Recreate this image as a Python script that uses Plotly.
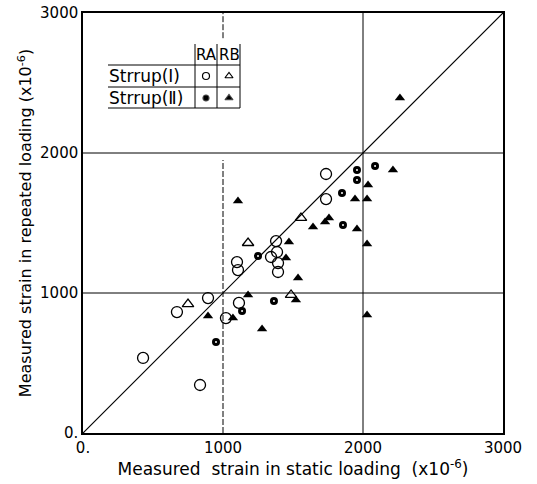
import plotly.graph_objects as go

# RA, Stirrup (I) - open circles
ra1_x = [429, 836, 671, 893, 1021, 1114, 1100, 1107, 1379, 1386, 1343, 1393, 1393, 1736, 1736]
ra1_y = [536, 343, 864, 964, 821, 929, 1221, 1164, 1371, 1293, 1257, 1214, 1150, 1850, 1671]
# RB, Stirrup (I) - open triangles
rb1_x = [750, 1179, 1557, 1486]
rb1_y = [921, 1357, 1536, 986]
# RA, Stirrup (II) - filled circles
ra2_x = [950, 1136, 1250, 1364, 1957, 1957, 2086, 1850, 1857]
ra2_y = [650, 871, 1264, 943, 1879, 1807, 1907, 1714, 1486]
# RB, Stirrup (II) - filled triangles
rb2_x = [893, 1071, 1179, 1107, 1471, 1450, 1536, 1279, 2214, 2036, 1943, 2029,
         1757, 1729, 1643, 1957, 2029, 1521, 2264, 2029]
rb2_y = [836, 821, 986, 1657, 1364, 1250, 1107, 743, 1879, 1771, 1671, 1671,
         1536, 1507, 1471, 1457, 1350, 950, 2393, 843]

tick_vals = [0, 1000, 2000, 3000]
tick_text = ["0.", "1000", "2000", "3000"]
diag = [0, 3000]

FONT = "DejaVu Sans"

fig = go.Figure()

# gridlines
for v in [1000, 2000]:
    fig.add_shape(type="line", x0=0, x1=3000, y0=v, y1=v, xref="x", yref="y",
                  line=dict(color="black", width=1), layer="below")
fig.add_shape(type="line", x0=2000, x1=2000, y0=0, y1=3000, xref="x", yref="y",
              line=dict(color="black", width=1), layer="below")
fig.add_shape(type="line", x0=1000, x1=1000, y0=0, y1=1950, xref="x", yref="y",
              line=dict(color="black", width=1, dash="6px,2px"), layer="below")
fig.add_shape(type="line", x0=1000, x1=1000, y0=2820, y1=3000, xref="x", yref="y",
              line=dict(color="black", width=1, dash="6px,2px"), layer="below")

fig.add_trace(go.Scatter(x=diag, y=diag, mode="lines",
                         line=dict(color="black", width=1.2), showlegend=False))

fig.add_trace(go.Scatter(x=ra1_x, y=ra1_y, mode="markers", showlegend=False,
                         marker=dict(symbol="circle-open", size=11, color="black",
                                     line=dict(width=1.3))))
fig.add_trace(go.Scatter(x=rb1_x, y=rb1_y, mode="markers", showlegend=False,
                         marker=dict(symbol="triangle-up-open", size=10, color="black",
                                     line=dict(width=1.3))))
fig.add_trace(go.Scatter(x=ra2_x, y=ra2_y, mode="markers", showlegend=False,
                         marker=dict(symbol="circle", size=8, color="black")))
fig.add_trace(go.Scatter(x=ra2_x, y=ra2_y, mode="markers", showlegend=False,
                         marker=dict(symbol="circle", size=2, color="white")))
fig.add_trace(go.Scatter(x=rb2_x, y=rb2_y, mode="markers", showlegend=False,
                         marker=dict(symbol="triangle-up", size=9, color="black")))

# legend table (paper coords from pixel positions)
L, T, S = 83, 13, 420
def px(x):
    return (x - L) / S
def py(y):
    return (433 - y) / S

def pline(x0, y0, x1, y1):
    fig.add_shape(type="line", xref="paper", yref="paper",
                  x0=px(x0), x1=px(x1), y0=py(y0), y1=py(y1),
                  line=dict(color="black", width=1))

pline(195, 44, 195, 108)
pline(217, 44, 217, 108)
pline(240, 44, 240, 108)
pline(108, 65, 240, 65)
pline(108, 87, 240, 87)
pline(108, 108, 240, 108)

def ptext(x, y, t, size=17, anchor="center"):
    fig.add_annotation(xref="paper", yref="paper", x=px(x), y=py(y), text=t,
                       showarrow=False, xanchor=anchor, yanchor="middle",
                       font=dict(family=FONT, size=size, color="black"))

ptext(206, 55, "RA", size=15)
ptext(229, 55, "RB", size=15)
ptext(107, 76, "Strrup(Ⅰ)", anchor="left")
ptext(107, 98, "Strrup(Ⅱ)", anchor="left")

leg_sym = [("circle-open", 206, 76, 7), ("triangle-up-open", 229, 76, 7),
           ("circle", 206, 98, 6), ("triangle-up", 229, 98, 7)]
for sym, x, y, s in leg_sym:
    fig.add_trace(go.Scatter(x=[px(x)], y=[py(y)], xaxis="x2", yaxis="y2",
                             mode="markers", showlegend=False,
                             marker=dict(symbol=sym, size=s, color="black",
                                         line=dict(width=1.2))))

fig.update_layout(
    width=537, height=484,
    margin=dict(l=83, r=34, t=13, b=51, autoexpand=False),
    plot_bgcolor="white", paper_bgcolor="white",
    font=dict(family=FONT, size=15, color="black"),
    xaxis=dict(range=[0, 3000], tickvals=tick_vals, ticktext=tick_text,
               showgrid=False, zeroline=False, showline=True, linecolor="black",
               linewidth=1.5, mirror=True, ticks="", automargin=False,
               tickfont=dict(size=15),
               title=dict(text="Measured  strain in static loading  (x10<sup>-6</sup>)",
                          standoff=2, font=dict(size=17))),
    yaxis=dict(range=[0, 3000], tickvals=tick_vals, ticktext=tick_text,
               showgrid=False, zeroline=False, showline=True, linecolor="black",
               linewidth=1.5, mirror=True, ticks="", automargin=False,
               tickfont=dict(size=15),
               title=dict(text="Measured strain in repeated loading (x10<sup>-6</sup>)",
                          standoff=4, font=dict(size=16))),
    xaxis2=dict(range=[0, 1], overlaying="x", visible=False, domain=[0, 1]),
    yaxis2=dict(range=[0, 1], overlaying="y", visible=False),
)

fig.write_html("out.html")
